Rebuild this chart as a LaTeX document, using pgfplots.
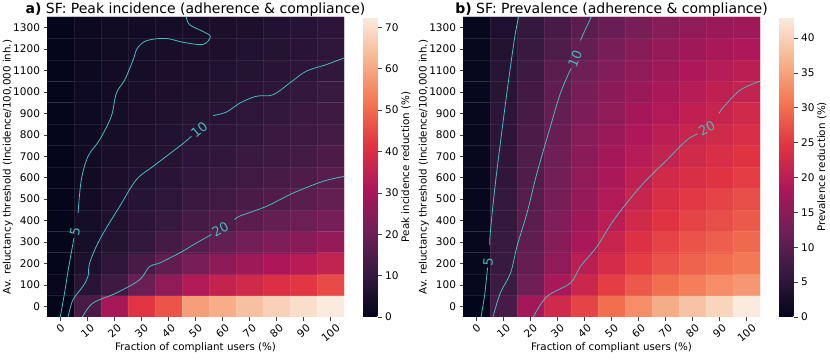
\documentclass[border=0pt]{standalone}
\usepackage{fontspec}
\setmainfont{DejaVu Sans}
\usepackage{pgfplots}
\pgfplotsset{compat=1.18}
\definecolor{ctr}{RGB}{62,190,188}
\tikzset{clab/.style={sloped, anchor=west, text=ctr, inner sep=1.5pt, font=\fontsize{13}{13}\selectfont}}
\pgfplotsset{
  colormap={rocket}{rgb255=(3,5,26) rgb255=(53,25,62) rgb255=(112,31,87) rgb255=(173,23,89) rgb255=(225,51,66) rgb255=(243,118,81) rgb255=(246,180,143) rgb255=(250,235,221)},
  hm/.style={
    anchor=south west, scale only axis, width=297pt, height=300pt,
    xmin=-5, xmax=105, ymin=-50, ymax=1350, enlargelimits=false,
    xtick={0,10,...,100}, ytick={0,100,...,1300},
    minor xtick={5,15,...,95}, minor ytick={50,150,...,1250},
    minor tick length=0pt,
    xminorgrids=true, yminorgrids=true,
    minor grid style={white, opacity=0.07, line width=0.5pt},
    axis on top,
    /pgf/number format/assume math mode=true,
    /pgf/number format/1000 sep={},
    xticklabel={\rotatebox{40}{\pgfmathprintnumber{\tick}}},
    tick pos=left, tick align=outside, major tick length=3.5pt,
    tick style={black!75, line width=0.6pt},
    axis line style={draw=none},
    ticklabel style={font=\fontsize{10.5}{12}\selectfont},
    xticklabel style={inner sep=1pt, yshift=-2pt},
    label style={font=\fontsize{10.3}{12}\selectfont},
    title style={font=\fontsize{14}{16}\selectfont, anchor=base, yshift=-3pt},
    xlabel={Fraction of compliant users (\%)},
    xlabel style={at={(axis description cs:0.5,-0.103)}, anchor=center},
    ylabel={Av. reluctancy threshold (Incidence/100,000 inh.)},
    ylabel style={at={(axis description cs:-0.132,0.5)}, anchor=center},
    colormap name=rocket,
    colorbar,
  },
  cb/.style={colorbar style={
    at={(parent axis.north east)}, anchor=north west, xshift=10.5pt,
    scale only axis, width=15pt, height=300pt,
    axis line style={draw=none},
    tick align=outside, ytick pos=right, yticklabel pos=right,
    major tick length=3.5pt, tick style={black!75, line width=0.6pt},
    /pgf/number format/assume math mode=true,
    yticklabel style={font=\fontsize{10.5}{12}\selectfont},
    ylabel={#1},
    ylabel style={font=\fontsize{10.3}{12}\selectfont, at={(axis description cs:2.85,0.5)}, anchor=center},
  }},
  cline/.style={ctr, line width=0.8pt, smooth, tension=0.55},
}
\begin{document}
\begin{tikzpicture}
\path[use as bounding box] (0,0) rectangle (830pt,359pt);
% ---------------- panel a ----------------
\begin{axis}[hm, at={(47pt,42pt)},
  title={\textbf{a)} SF: Peak incidence (adherence \& compliance)},
  point meta min=0, point meta max=72.5,
  cb={Peak incidence reduction (\%)},
  colorbar style={ytick={0,10,...,70}}]
\addplot[matrix plot*, mesh/cols=11, point meta=explicit] table[meta=z] {
x y z
0 0 0
10 0 14
20 0 30
30 0 41.5
40 0 46.5
50 0 58.5
60 0 61
70 0 64.5
80 0 67.5
90 0 70
100 0 72.5
0 100 1
10 100 8
20 100 12
30 100 19.5
40 100 26
50 100 32
60 100 35.5
70 100 38
80 100 40
90 100 42
100 100 45
0 200 0.5
10 200 5.5
20 200 9
30 200 13.5
40 200 18
50 200 22
60 200 25.5
70 200 28.5
80 200 31
90 200 33
100 200 35
0 300 0.5
10 300 4.5
20 300 7
30 300 10
40 300 13
50 300 16
60 300 18.5
70 300 21
80 300 23
90 300 25
100 300 27
0 400 0.5
10 400 4
20 400 6
30 400 8.5
40 400 10.5
50 400 13
60 400 15
70 400 17
80 400 18.5
90 400 20
100 400 21.5
0 500 0.5
10 500 3.5
20 500 5.5
30 500 7.5
40 500 9
50 500 11
60 500 12.5
70 500 14
80 500 15.5
90 500 17
100 500 18.5
0 600 0.5
10 600 3
20 600 5
30 600 6.5
40 600 8
50 600 9.5
60 600 11
70 600 12.5
80 600 13.5
90 600 15
100 600 16.5
0 700 0.5
10 700 3
20 700 4.5
30 700 6
40 700 7
50 700 8.5
60 700 9.5
70 700 11
80 700 12
90 700 13
100 700 14.5
0 800 0.5
10 800 2.5
20 800 4
30 800 5.5
40 800 6.5
50 800 7.5
60 800 8.5
70 800 9.5
80 800 11
90 800 12
100 800 13
0 900 0.5
10 900 2.5
20 900 4
30 900 5
40 900 6
50 900 7
60 900 8
70 900 9
80 900 10
90 900 11
100 900 12
0 1000 0.5
10 1000 2.5
20 1000 3.5
30 1000 4.5
40 1000 5.5
50 1000 6
60 1000 7
70 1000 8
80 1000 9
90 1000 10
100 1000 11
0 1100 0.5
10 1100 2
20 1100 3.5
30 1100 4
40 1100 5
50 1100 5.5
60 1100 6.5
70 1100 7
80 1100 8
90 1100 8.5
100 1100 9.5
0 1200 0.5
10 1200 2
20 1200 3
30 1200 4
40 1200 4.5
50 1200 5
60 1200 5.5
70 1200 6.5
80 1200 7
90 1200 8
100 1200 9
0 1300 0.5
10 1300 2
20 1300 3
30 1300 3.5
40 1300 4
50 1300 4.5
60 1300 5
70 1300 5.5
80 1300 6.5
90 1300 7.5
100 1300 8.5
};
% contour 5
\addplot[cline] coordinates {(-0.1,-50) (1.5,62) (3,180) (5,319)} node[clab, pos=1] {5};
\addplot[cline] coordinates {(6.5,435) (7.7,590) (10.2,700) (14.5,777) (18.8,886) (20.7,995) (23.8,1057) (26.9,1150) (28.5,1205) (32,1240) (39,1250) (45.4,1232) (52.8,1222) (55.5,1259) (52.8,1282) (47.8,1314) (46.6,1350)};
% contour 10
\addplot[cline] coordinates {(2.8,-50) (4.6,30) (8.3,93) (10.2,140) (10.8,202) (14.5,311) (21.9,466) (28.1,591) (34.3,653) (39.2,700) (45.4,760) (48.5,793)} node[clab, pos=1] {10};
\addplot[cline] coordinates {(56.5,890) (61.4,906) (66.4,948) (72.5,980) (78.7,987) (84.9,1042) (91,1097) (98.5,1128) (105,1159)};
% contour 20
\addplot[cline] coordinates {(8.1,-50) (12,15) (20.7,62) (29.3,124) (33,186) (36.7,202) (44.1,249) (50.3,295) (55.9,335)} node[clab, pos=1] {20};
\addplot[cline] coordinates {(64.5,404) (66.4,421) (76.2,466) (86.1,528) (97.2,583) (105,606)};
\end{axis}
% ---------------- panel b ----------------
\begin{axis}[hm, at={(463pt,42pt)},
  title={\textbf{b)} SF: Prevalence (adherence \& compliance)},
  point meta min=0, point meta max=43,
  cb={Prevalence reduction (\%)},
  colorbar style={ytick={0,5,...,40}}]
\addplot[matrix plot*, mesh/cols=11, point meta=explicit] table[meta=z] {
x y z
0 0 0
10 0 8
20 0 17.5
30 0 22.5
40 0 26
50 0 30
60 0 33
70 0 36
80 0 38.5
90 0 40.5
100 0 43
0 100 0.5
10 100 7
20 100 12
30 100 18
40 100 22
50 100 25.5
60 100 28
70 100 30
80 100 31.5
90 100 33
100 100 34
0 200 0.5
10 200 6.5
20 200 11
30 200 15.5
40 200 20
50 200 23
60 200 25.5
70 200 27.5
80 200 29
90 200 30
100 200 31
0 300 0.5
10 300 6.5
20 300 10.5
30 300 14.5
40 300 18
50 300 21.5
60 300 24
70 300 26
80 300 27.5
90 300 28.5
100 300 29.5
0 400 0.5
10 400 6
20 400 10
30 400 14
40 400 17
50 400 20
60 400 22.5
70 400 24.5
80 400 26
90 400 27
100 400 28
0 500 0.5
10 500 6
20 500 9.5
30 500 13
40 500 16
50 500 19
60 500 21.5
70 500 23.5
80 500 25
90 500 26
100 500 27
0 600 0.5
10 600 5.5
20 600 9
30 600 12.5
40 600 15.5
50 600 18
60 600 20.5
70 600 22.5
80 600 23.5
90 600 24.5
100 600 25.5
0 700 0.5
10 700 5.5
20 700 9
30 700 12
40 700 15
50 700 17.5
60 700 19.5
70 700 21
80 700 22.5
90 700 23.5
100 700 24.5
0 800 0.5
10 800 5
20 800 8.5
30 800 11.5
40 800 14.5
50 800 16.5
60 800 18.5
70 800 20
80 800 21.5
90 800 22.5
100 800 23.5
0 900 0.5
10 900 5
20 900 8
30 900 11
40 900 13.5
50 900 15.5
60 900 17.5
70 900 19
80 900 20.5
90 900 21.5
100 900 22.5
0 1000 0.5
10 1000 4.5
20 1000 7.5
30 1000 10.5
40 1000 13
50 1000 15
60 1000 16.5
70 1000 18
80 1000 19.5
90 1000 20.5
100 1000 21
0 1100 0.5
10 1100 4.5
20 1100 7
30 1100 10
40 1100 12
50 1100 14
60 1100 15.5
70 1100 17
80 1100 18.5
90 1100 19.5
100 1100 20
0 1200 0.5
10 1200 4
20 1200 6.5
30 1200 9
40 1200 11
50 1200 13
60 1200 14.5
70 1200 16
80 1200 17
90 1200 18
100 1200 18.5
0 1300 0.5
10 1300 3.5
20 1300 6
30 1300 8
40 1300 10
50 1300 11.5
60 1300 13
70 1300 14.5
80 1300 15.5
90 1300 16.5
100 1300 17
};
% contour 5
\addplot[cline] coordinates {(1.67,-50) (3,50) (3.6,120) (4.1,180)} node[clab, pos=1] {5};
\addplot[cline] coordinates {(4.9,285) (5.1,342) (7,575) (10.1,886) (12.6,1120) (14.4,1275) (15.6,1350)};
% contour 10
\addplot[cline] coordinates {(6.1,-50) (8.8,62) (12.6,155) (15,280) (18.7,435) (22.4,622) (27.4,840) (31.1,995) (35,1110)} node[clab, pos=1] {10};
\addplot[cline] coordinates {(38.5,1240) (39.7,1275) (42.5,1350)};
% contour 20
\addplot[cline] coordinates {(21,-50) (26.1,46) (34.8,109) (38.5,186) (44.7,280) (50.9,404) (60.8,560) (70.6,684) (78,777) (82,805)} node[clab, pos=1] {20};
\addplot[cline] coordinates {(89.8,900) (91.7,933) (97.8,1010) (105,1050)};
\end{axis}
\end{tikzpicture}
\end{document}
